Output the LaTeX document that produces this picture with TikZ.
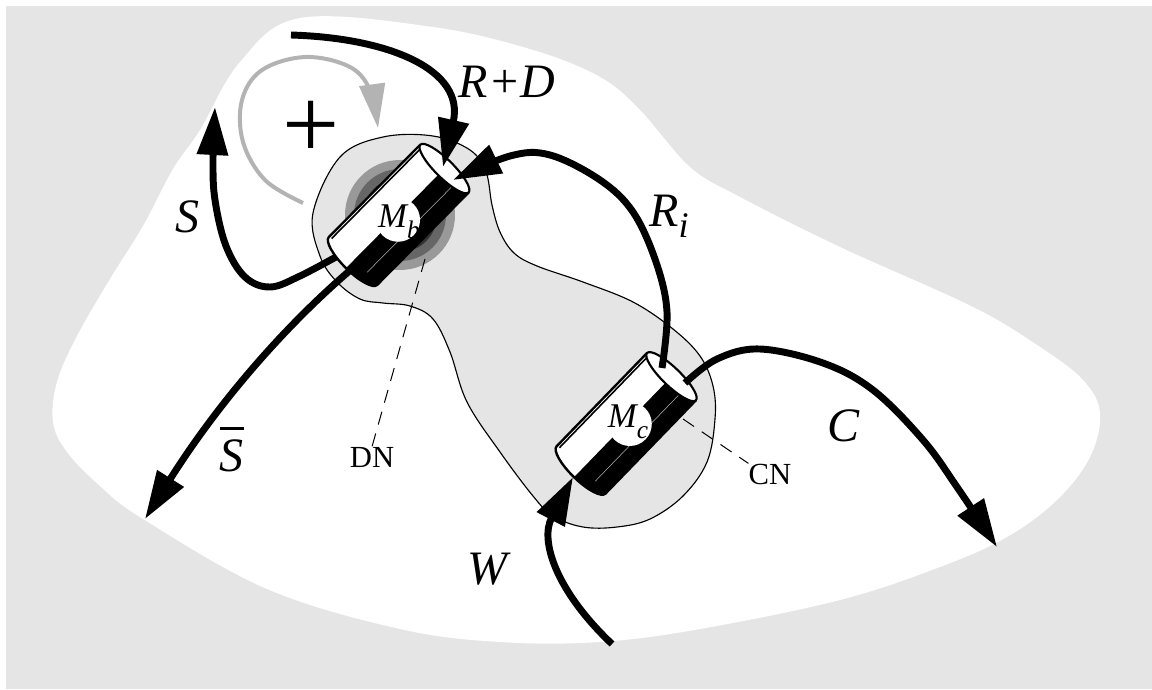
\documentclass[tikz,border=0pt]{standalone}
\usepackage{fontspec}
\setmainfont{Liberation Serif}
\usetikzlibrary{arrows.meta}
\definecolor{bggray}{HTML}{E5E5E5}
\definecolor{arrgray}{HTML}{B3B3B3}
\definecolor{haloA}{HTML}{999999}
\definecolor{haloB}{HTML}{666666}
\definecolor{haloC}{HTML}{333333}
\tikzset{
  arr/.style={line width=5.2pt, -{Triangle[length=36pt,width=22.5pt]}},
  grayarr/.style={line width=3pt, draw=arrgray, -{Triangle[length=33pt,width=19pt,fill=arrgray]}},
  biglabel/.style={font=\fontsize{36}{40}\selectfont\itshape, inner sep=0pt, anchor=base},
  smalllabel/.style={font=\fontsize{23}{26}\selectfont, inner sep=0pt, anchor=base},
  mlabel/.style={font=\fontsize{26}{28}\selectfont\itshape, inner sep=0pt, anchor=base},
  leader/.style={line width=0.75pt, dash pattern=on 10pt off 7pt},
  pics/cyl/.style={code={
     \fill[white] (0,-34) -- (130,-34) -- (130,34) -- (0,34) arc[start angle=90,end angle=270,x radius=10,y radius=34] -- cycle;
     \fill[black] (0,0) -- (130,0) -- (130,34) -- (0,34) arc[start angle=90,end angle=180,x radius=10,y radius=34] -- cycle;
     \draw[gray!60, line width=0.4pt] (2,18) -- (128,18);
     \fill[white] (#1,3) circle[radius=22];
     \draw[line width=1.2pt] (1,-31) -- (129,-31);
     \draw[line width=1.8pt, line join=round] (130,-34) -- (0,-34) arc[start angle=270,end angle=90,x radius=10,y radius=34] -- (130,34);
     \draw[line width=1.6pt, fill=white] (130,0) ellipse[x radius=9,y radius=34];
  }}
}
\begin{document}
\begin{tikzpicture}[x=0.75pt,y=-0.75pt]
\useasboundingbox (0,0) rectangle (1152,689);
\fill[bggray] (6,6) rectangle (1152,689);
% white region
\fill[white] plot[smooth cycle, tension=0.6] coordinates {
 (300,18) (433,27) (533,50) (600,77) (640,110) (690,167) (740,197) (840,247)
 (973,307) (1040,347) (1083,380) (1100,413) (1090,457) (1057,500) (1007,537)
 (940,567) (840,600) (700,629) (600,642) (500,642) (400,629) (267,589)
 (143,519) (100,486) (67,452) (53,422) (57,382) (77,336) (110,279) (143,226)
 (173,169) (200,130) (240,62)};
% neighbourhood
\path[fill=bggray, draw=black, line width=0.85pt] plot[smooth cycle, tension=0.6] coordinates {
 (313,213) (340,157) (383,137) (433,136) (470,150) (486,172) (492,205) (500,232)
 (514,253) (537,266) (583,282) (633,302) (673,329) (700,356) (713,386) (715,419)
 (707,462) (683,496) (650,519) (617,527) (583,527) (553,516) (533,496) (500,452)
 (467,402) (450,352) (433,319) (410,306) (383,303) (360,299) (337,282) (320,256)};
% halo
\fill[haloA] (400,215) circle[radius=55];
\fill[haloB] (400,215) circle[radius=46];
\fill[haloC] (400,215) circle[radius=37];
% named points
\coordinate (rdstart) at (291,35);
\coordinate (mbin) at (443,167);
\coordinate (mbin2) at (453,180);
\coordinate (mbout1) at (345,252);
\coordinate (mbout2) at (360,262);
\coordinate (mcin) at (573,477);
\coordinate (mcout1) at (662,368);
\coordinate (mcout2) at (685,383);
\coordinate (wstart) at (612,644);
\coordinate (send) at (215,107);
\coordinate (sbend) at (145,519);
\coordinate (cend) at (997,547);
\coordinate (gstart) at (303,203);
\coordinate (gend) at (378,128);
\coordinate (dnstart) at (425,259);
\coordinate (cnstart) at (683,419);
% labels
\node[biglabel] (rd) at (507,97) {R+D};
\node[biglabel] (slab) at (187,232) {S};
\node[biglabel] (sbar) at (231,471) {\makebox[0pt][l]{\hspace{0.03em}\rule[0.86em]{0.5em}{0.06em}}S};
\node[biglabel] (wlab) at (487,584) {W};
\node[biglabel] (rilab) at (669,226) {R\raisebox{-0.23em}{\fontsize{27}{30}\selectfont i}};
\node[biglabel] (clab) at (843,441) {C};
\node[smalllabel] (dn) at (372,467) {DN};
\node[smalllabel] (cn) at (770,484) {CN};
\node[font=\fontsize{76}{76}\selectfont, inner sep=0pt] (plus) at (311,130) {+};
% leader to DN
\draw[leader] (dnstart) -- (dn.north);
% gray loop
\draw[grayarr] plot[smooth, tension=0.6] coordinates {(gstart) (265,180) (243,142) (242,100) (262,70) (305,57) (348,66) (369,88) (gend)};
% S and S-bar
\draw[arr] plot[smooth, tension=0.6] coordinates {(mbout1) (300,276) (270,287) (245,277) (226,246) (215,200) (213,160) (send)};
\draw[arr] (mbout2) .. controls (290,320) and (220,400) .. (sbend);
% cylinders
\pic[shift={(353,261)}, rotate=45.3] {cyl=61};
\pic[shift={(581,470)}, rotate=45.9] {cyl=67};
\node[mlabel] (mb) at (399,227) {M\raisebox{-0.33em}{\fontsize{19}{20}\selectfont b}};
\node[mlabel] (mc) at (628,427) {M\raisebox{-0.33em}{\fontsize{19}{20}\selectfont c}};
% leader to CN
\draw[leader] (cnstart) -- (cn.north west);
% arrows
\draw[arr] (rdstart) .. controls (390,38) and (465,70) .. (mbin);
\draw[arr] plot[smooth, tension=0.6] coordinates {(mcout1) (667,312) (656,262) (633,212) (600,180) (550,155) (510,156) (mbin2)};
\draw[arr] plot[smooth, tension=0.6] coordinates {(mcout2) (717,359) (760,349) (823,363) (873,390) (923,440) (957,487) (cend)};
\draw[arr] (wstart) .. controls (555,590) and (540,540) .. (mcin);
\end{tikzpicture}
\end{document}
